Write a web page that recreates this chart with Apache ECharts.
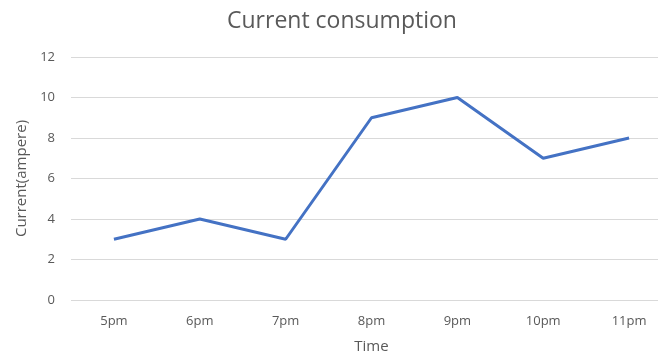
<!DOCTYPE html>
<html>
<head>
<meta charset="utf-8">
<script src="https://cdn.jsdelivr.net/npm/echarts@6/dist/echarts.min.js"></script>
<style>
  html, body { margin: 0; padding: 0; background: #fff; }
  #chart { width: 658px; height: 356px; }
</style>
</head>
<body>
<div id="chart"></div>
<script>
// Hourly current draw through the evening
const hours = ['5pm', '6pm', '7pm', '8pm', '9pm', '10pm', '11pm'];
const currentAmps = [3, 4, 3, 9, 10, 7, 8];

const chart = echarts.init(document.getElementById('chart'), null, { renderer: 'canvas' });
const grey = '#595959';
const font = '"Open Sans", "Liberation Sans", sans-serif';

chart.setOption({
  animation: false,
  title: {
    text: 'Current consumption',
    left: 222,
    top: 5,
    textStyle: { fontFamily: font, fontSize: 23, fontWeight: 'normal', color: grey }
  },
  grid: { left: 71, right: -14, top: 57, bottom: 56, containLabel: false, outerBoundsMode: 'none' },
  xAxis: {
    type: 'category',
    data: hours,
    boundaryGap: true,
    name: 'Time',
    nameLocation: 'middle',
    nameGap: 39,
    nameTextStyle: { fontFamily: font, fontSize: 15, color: grey },
    axisLine: { show: false },
    axisTick: { show: false },
    axisLabel: { fontFamily: font, fontSize: 13, color: grey, margin: 15 }
  },
  yAxis: {
    type: 'value',
    min: 0,
    max: 12,
    interval: 2,
    name: 'Current(ampere)',
    nameLocation: 'middle',
    nameGap: 40,
    nameTextStyle: { fontFamily: font, fontSize: 15, color: grey },
    axisLine: { show: false },
    axisTick: { show: false },
    axisLabel: { fontFamily: font, fontSize: 13, color: grey, margin: 16 },
    splitLine: { lineStyle: { color: '#d9d9d9', width: 1 } }
  },
  series: [{
    type: 'line',
    data: currentAmps,
    symbol: 'none',
    lineStyle: { color: '#4472C4', width: 3 },
    itemStyle: { color: '#4472C4' }
  }]
});
</script>
</body>
</html>
